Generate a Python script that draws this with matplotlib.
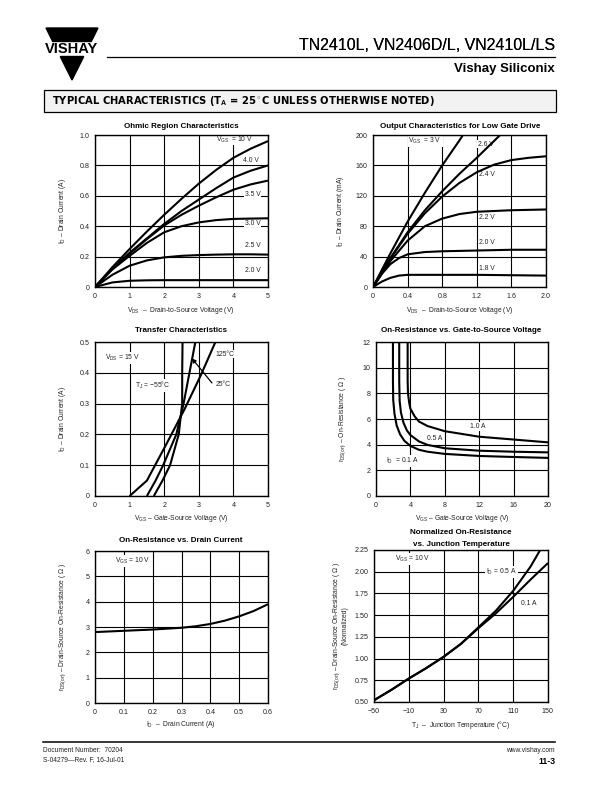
import matplotlib
matplotlib.use('Agg')
import matplotlib.pyplot as plt
from matplotlib.patches import Polygon, Rectangle

plt.rcParams['font.family'] = ['Liberation Sans', 'DejaVu Sans']
plt.rcParams['mathtext.fontset'] = 'custom'
plt.rcParams['mathtext.rm'] = 'Liberation Sans'
plt.rcParams['mathtext.it'] = 'Liberation Sans:italic'
plt.rcParams['mathtext.bf'] = 'Liberation Sans:bold'

W, H = 612, 792

# --- Ohmic region: ID (A) vs VDS (V)
ohm_vds = [0, 0.5, 1, 1.5, 2, 2.5, 3, 3.5, 4, 4.5, 5]
ohm_10v = [0, 0.13, 0.25, 0.365, 0.475, 0.58, 0.68, 0.77, 0.85, 0.91, 0.96]
ohm_4v0 = [0, 0.12, 0.225, 0.32, 0.415, 0.50, 0.575, 0.65, 0.72, 0.765, 0.80]
ohm_3v5 = [0, 0.12, 0.22, 0.315, 0.405, 0.475, 0.535, 0.59, 0.64, 0.675, 0.70]
ohm_3v0 = [0, 0.115, 0.205, 0.29, 0.36, 0.40, 0.425, 0.44, 0.448, 0.45, 0.452]
ohm_2v5 = [0, 0.08, 0.14, 0.175, 0.195, 0.205, 0.21, 0.213, 0.215, 0.215, 0.213]
ohm_2v0 = [0, 0.03, 0.041, 0.044, 0.045, 0.045, 0.045, 0.045, 0.045, 0.045, 0.045]

# --- Output characteristics, low gate drive: ID (mA) vs VDS (V)
out_3v0_x = [0, 0.2, 0.4, 0.6, 0.8, 1.0, 1.04]
out_3v0_y = [0, 44, 86, 124, 160, 193, 200]
out_2v6_x = [0, 0.2, 0.4, 0.6, 0.8, 1.0, 1.2, 1.47]
out_2v6_y = [0, 38, 72, 101, 126, 149, 170, 200]
out_2v4_x = [0, 0.2, 0.4, 0.6, 0.8, 1.0, 1.2, 1.4, 1.6, 1.8, 2.0]
out_2v4_y = [0, 37, 70, 97, 119, 137, 151, 161, 167, 170, 172]
out_2v2_x = [0, 0.2, 0.4, 0.6, 0.8, 1.0, 1.2, 1.6, 2.0]
out_2v2_y = [0, 34, 61, 80, 90, 96, 99, 101, 102]
out_2v0_x = [0, 0.1, 0.2, 0.3, 0.4, 0.6, 0.8, 1.2, 1.6, 2.0]
out_2v0_y = [0, 17, 30, 38, 43, 46, 47, 48, 49, 49]
out_1v8_x = [0, 0.1, 0.2, 0.3, 0.4, 0.8, 1.2, 1.6, 2.0]
out_1v8_y = [0, 7, 12, 15, 16, 16, 16, 15.5, 15]

# --- Transfer characteristics: ID (A) vs VGS (V)
tr_125_x = [1.0, 1.5, 2.07, 2.58, 3.05, 3.48]
tr_125_y = [0, 0.05, 0.17, 0.28, 0.39, 0.5]
tr_25_x = [1.5, 1.75, 1.97, 2.35, 2.56, 2.73, 2.9]
tr_25_y = [0, 0.05, 0.1, 0.2, 0.3, 0.4, 0.5]
tr_m55_x = [1.7, 1.95, 2.17, 2.42, 2.52, 2.52, 2.53]
tr_m55_y = [0, 0.05, 0.1, 0.2, 0.3, 0.4, 0.5]

# --- On-resistance vs gate-source voltage: rDS(on) (ohm) vs VGS (V)
rg_01_x = [1.97, 1.97, 2.0, 2.15, 2.4, 2.8, 3.3, 4, 5, 6, 8, 12, 16, 20]
rg_01_y = [12, 9, 7.5, 6.4, 5.5, 4.8, 4.3, 3.9, 3.6, 3.45, 3.28, 3.12, 3.04, 2.97]
rg_05_x = [2.7, 2.7, 2.75, 2.9, 3.2, 3.6, 4, 5, 6, 8, 12, 16, 20]
rg_05_y = [12, 9, 7.4, 6.5, 5.7, 5.1, 4.75, 4.25, 3.98, 3.72, 3.53, 3.45, 3.4]
rg_10_x = [3.68, 3.68, 3.72, 3.85, 4, 4.5, 5, 6, 8, 12, 16, 20]
rg_10_y = [12, 9, 8.0, 7.3, 6.8, 6.2, 5.8, 5.45, 5.05, 4.62, 4.4, 4.18]

# --- On-resistance vs drain current
rd_id = [0, 0.1, 0.2, 0.3, 0.35, 0.4, 0.45, 0.5, 0.55, 0.6]
rd_r = [2.8, 2.85, 2.9, 2.97, 3.03, 3.12, 3.25, 3.42, 3.63, 3.9]

# --- Normalized on-resistance vs junction temperature
nt_05_t = [-50, -30, -10, 10, 30, 50, 70, 90, 110, 130, 141]
nt_05_r = [0.52, 0.64, 0.77, 0.89, 1.02, 1.17, 1.36, 1.55, 1.78, 2.06, 2.25]
nt_01_t = [-50, -30, -10, 10, 30, 50, 70, 90, 110, 130, 150]
nt_01_r = [0.52, 0.64, 0.77, 0.89, 1.02, 1.17, 1.35, 1.52, 1.71, 1.91, 2.1]

TXT = '#222222'
FS_T = 5.8
FS_L = 4.9
FS_K = 5.1
NARROW = ['Liberation Sans Narrow', 'Liberation Sans']

fig = plt.figure(figsize=(W / 100, H / 100), dpi=100)

bg = fig.add_axes([0, 0, 1, 1])
bg.set_xlim(0, W)
bg.set_ylim(H, 0)
bg.axis('off')


def add_ax(x0, y0, x1, y1):
    ax = fig.add_axes([x0 / W, 1 - y1 / H, (x1 - x0) / W, (y1 - y0) / H])
    ax.set_axisbelow(True)
    ax.grid(True, color='black', linewidth=0.8)
    for s in ax.spines.values():
        s.set_linewidth(1.0)
    ax.tick_params(length=0, labelsize=FS_K, labelcolor=TXT, pad=4)
    return ax


def curve(ax, x, y):
    ax.plot(x, y, color='black', linewidth=1.5, zorder=3, solid_capstyle='butt')


def note(ax, x, y, s):
    ax.text(x, y, s, fontsize=FS_L, color=TXT, ha='left', va='center', zorder=2.5,
            bbox=dict(facecolor='white', edgecolor='none', pad=0.6))


def title(x, y, s):
    bg.text(x, y, s, fontsize=FS_T, fontweight='bold', ha='center', va='center', color='black')


def label(x, y, s, rot=0):
    bg.text(x, y, s, fontsize=FS_L, ha='center', va='center', color=TXT, rotation=rot)


# ---------------- header
tri_l, tri_r, tri_top, tri_pt = 46, 98, 28, 80
cx = (tri_l + tri_r) / 2


def edge(y):
    f = (y - tri_top) / (tri_pt - tri_top)
    return tri_l + f * (cx - tri_l), tri_r - f * (tri_r - cx)


ya, yb = 41.5, 56.5
la, ra = edge(ya)
lb, rb = edge(yb)
bg.add_patch(Polygon([(tri_l, tri_top), (tri_r, tri_top), (ra, ya), (la, ya)], color='black'))
bg.add_patch(Polygon([(lb, yb), (rb, yb), (cx, tri_pt)], color='black'))
bg.text(cx, 49.2, 'VISHAY', fontsize=10.5, fontweight='bold', ha='center', va='center',
        color='black', family=NARROW)

# drawn twice, slightly offset, for the heavier weight of the original
bg.text(555, 45, 'TN2410L, VN2406D/L, VN2410L/LS', fontsize=11.5, ha='right', va='center',
        color='black', family=NARROW)
bg.text(555.3, 45, 'TN2410L, VN2406D/L, VN2410L/LS', fontsize=11.5, ha='right', va='center',
        color='black', family=NARROW)
bg.plot([107, 555], [57, 57], color='black', linewidth=0.9)
bg.text(555, 69, 'Vishay Siliconix', fontsize=9.5, fontweight='bold', ha='right', va='center',
        color='black', family=NARROW)

bg.add_patch(Rectangle((44, 90), 512, 22, facecolor='#f2f2f2', edgecolor='black', linewidth=0.9))
bg.text(52, 101.5, r'TYPICAL CHARACTERISTICS (T$_\mathbf{A}$ = 25$^\circ$C UNLESS OTHERWISE NOTED)',
        fontsize=7.2, fontweight='bold', ha='left', va='center', color='black',
        family=['DejaVu Sans'])

# ---------------- footer
bg.plot([43, 555], [742, 742], color='black', linewidth=1.1)
bg.text(43, 750, 'Document Number:  70204', fontsize=4.8, ha='left', va='center', color=TXT)
bg.text(43, 760, 'S-04279\u2014Rev. F, 16-Jul-01', fontsize=4.8, ha='left', va='center', color=TXT)
bg.text(555, 750, 'www.vishay.com', fontsize=4.8, ha='right', va='center', color=TXT)
bg.text(555, 761, '11-3', fontsize=6.2, fontweight='bold', ha='right', va='center', color='black')

# ---------------- 1: ohmic region
ax = add_ax(95, 135, 268, 287)
for ys in [ohm_10v, ohm_4v0, ohm_3v5, ohm_3v0, ohm_2v5, ohm_2v0]:
    curve(ax, ohm_vds, ys)
ax.set_xlim(0, 5)
ax.set_ylim(0, 1.0)
ax.set_xticks([0, 1, 2, 3, 4, 5])
ax.set_yticks([0, 0.2, 0.4, 0.6, 0.8, 1.0])
ax.set_yticklabels(['0', '0.2', '0.4', '0.6', '0.8', '1.0'])
note(ax, 3.5, 0.97, r'V$_\mathrm{GS}$  = 10 V')
note(ax, 4.28, 0.83, '4.0 V')
note(ax, 4.33, 0.61, '3.5 V')
note(ax, 4.33, 0.42, '3.0 V')
note(ax, 4.33, 0.27, '2.5 V')
note(ax, 4.33, 0.11, '2.0 V')
title(181, 126, 'Ohmic Region Characteristics')
label(181, 311, 'V$_\\mathrm{DS}$  \u2013  Drain-to-Source Voltage (V)')
label(63, 211, 'I$_\\mathrm{D}$ \u2013 Drain Current (A)', rot=90)

# ---------------- 2: output characteristics
ax = add_ax(373, 135, 546, 287)
curve(ax, out_3v0_x, out_3v0_y)
curve(ax, out_2v6_x, out_2v6_y)
curve(ax, out_2v4_x, out_2v4_y)
curve(ax, out_2v2_x, out_2v2_y)
curve(ax, out_2v0_x, out_2v0_y)
curve(ax, out_1v8_x, out_1v8_y)
ax.set_xlim(0, 2.0)
ax.set_ylim(0, 200)
ax.set_xticks([0, 0.4, 0.8, 1.2, 1.6, 2.0])
ax.set_xticklabels(['0', '0.4', '0.8', '1.2', '1.6', '2.0'])
ax.set_yticks([0, 40, 80, 120, 160, 200])
note(ax, 0.41, 192, r'V$_\mathrm{GS}$  = 3 V')
note(ax, 1.21, 188, '2.6 V')
note(ax, 1.22, 148, '2.4 V')
note(ax, 1.22, 91, '2.2 V')
note(ax, 1.22, 58, '2.0 V')
note(ax, 1.22, 24, '1.8 V')
title(460, 126, 'Output Characteristics for Low Gate Drive')
label(460, 311, 'V$_\\mathrm{DS}$  \u2013  Drain-to-Source Voltage (V)')
label(340, 211, 'I$_\\mathrm{D}$ \u2013 Drain Current (mA)', rot=90)

# ---------------- 3: transfer characteristics
ax = add_ax(95, 342, 268, 496)
curve(ax, tr_125_x, tr_125_y)
curve(ax, tr_25_x, tr_25_y)
curve(ax, tr_m55_x, tr_m55_y)
ax.set_xlim(0, 5)
ax.set_ylim(0, 0.5)
ax.set_xticks([0, 1, 2, 3, 4, 5])
ax.set_yticks([0, 0.1, 0.2, 0.3, 0.4, 0.5])
ax.set_yticklabels(['0', '0.1', '0.2', '0.3', '0.4', '0.5'])
note(ax, 0.3, 0.448, r'V$_\mathrm{DS}$ = 15 V')
note(ax, 1.15, 0.36, 'T$_\\mathrm{J}$ = \u221255\u00b0C')
note(ax, 3.48, 0.461, '125\u00b0C')
note(ax, 3.48, 0.361, '25\u00b0C')
ax.annotate('', xy=(2.8, 0.447), xytext=(3.38, 0.367), zorder=4,
            arrowprops=dict(arrowstyle='-|>', color='black', linewidth=0.9,
                            mutation_scale=6, shrinkA=0, shrinkB=0))
title(181, 331, 'Transfer Characteristics')
label(181, 518, 'V$_\\mathrm{GS}$ \u2013 Gate-Source Voltage (V)')
label(63, 419, 'I$_\\mathrm{D}$ \u2013 Drain Current (A)', rot=90)

# ---------------- 4: on-resistance vs VGS
ax = add_ax(376, 342, 548, 496)
curve(ax, rg_01_x, rg_01_y)
curve(ax, rg_05_x, rg_05_y)
curve(ax, rg_10_x, rg_10_y)
ax.set_xlim(0, 20)
ax.set_ylim(0, 12)
ax.set_xticks([0, 4, 8, 12, 16, 20])
ax.set_yticks([0, 2, 4, 6, 8, 10, 12])
note(ax, 10.9, 5.4, '1.0 A')
note(ax, 5.9, 4.5, '0.5 A')
note(ax, 1.2, 2.73, 'I$_\\mathrm{D}$  = 0.1 A')
title(461, 331, 'On-Resistance vs. Gate-to-Source Voltage')
label(462, 518, 'V$_\\mathrm{GS}$ \u2013 Gate-Source Voltage (V)')
label(343, 419, 'r$_\\mathrm{DS(on)}$ \u2013 On-Resistance ( \u03a9 )', rot=90)

# ---------------- 5: on-resistance vs drain current
ax = add_ax(95, 551, 268, 703)
curve(ax, rd_id, rd_r)
ax.set_xlim(0, 0.6)
ax.set_ylim(0, 6)
ax.set_xticks([0, 0.1, 0.2, 0.3, 0.4, 0.5, 0.6])
ax.set_xticklabels(['0', '0.1', '0.2', '0.3', '0.4', '0.5', '0.6'])
ax.set_yticks([0, 1, 2, 3, 4, 5, 6])
note(ax, 0.07, 5.6, r'V$_\mathrm{GS}$ = 10 V')
title(181, 541, 'On-Resistance vs. Drain Current')
label(181, 725, 'I$_\\mathrm{D}$  \u2013  Drain Current (A)')
label(63, 627, 'r$_\\mathrm{DS(on)}$ \u2013 Drain-Source On-Resistance ( \u03a9 )', rot=90)

# ---------------- 6: normalized on-resistance vs temperature
ax = add_ax(374, 550, 548, 702)
curve(ax, nt_05_t, nt_05_r)
curve(ax, nt_01_t, nt_01_r)
ax.set_xlim(-50, 150)
ax.set_ylim(0.5, 2.25)
ax.set_xticks([-50, -10, 30, 70, 110, 150])
ax.set_xticklabels(['\u221250', '\u221210', '30', '70', '110', '150'])
ax.set_yticks([0.5, 0.75, 1.0, 1.25, 1.5, 1.75, 2.0, 2.25])
ax.set_yticklabels(['0.50', '0.75', '1.00', '1.25', '1.50', '1.75', '2.00', '2.25'])
note(ax, -26, 2.15, r'V$_\mathrm{GS}$ = 10 V')
note(ax, 79, 2.0, 'I$_\\mathrm{D}$ = 0.5 A')
note(ax, 119, 1.63, '0.1 A')
title(461, 533, 'Normalized On-Resistance')
title(461, 544, 'vs. Junction Temperature')
label(461, 725, 'T$_\\mathrm{J}$  \u2013  Junction Temperature (\u00b0C)')
label(337, 626, 'r$_\\mathrm{DS(on)}$ \u2013 Drain-Source On-Resistance ( \u03a9 )', rot=90)
label(345, 626, '(Normalized)', rot=90)

fig.savefig('out.png', dpi=100)
